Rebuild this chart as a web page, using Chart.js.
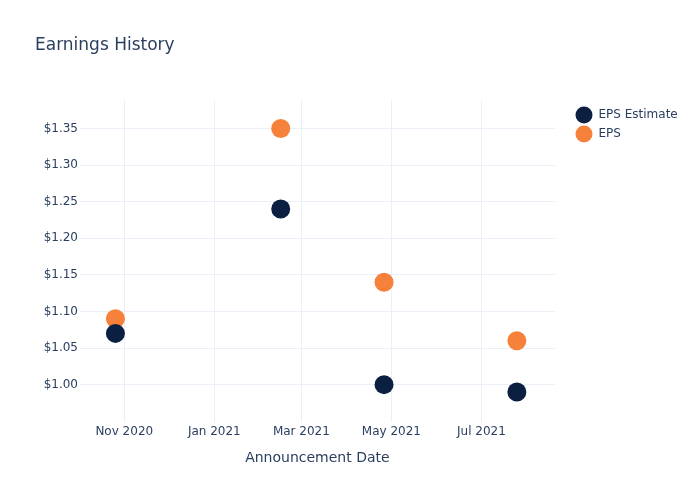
<!DOCTYPE html>
<html>
<head>
<meta charset="utf-8">
<script src="https://cdn.jsdelivr.net/npm/chart.js@4/dist/chart.umd.min.js"></script>
<style>
  html, body { margin: 0; padding: 0; background: #fff; }
  #wrap { width: 700px; height: 500px; }
</style>
</head>
<body>
<div id="wrap"><canvas id="earningsChart" width="700" height="500"></canvas></div>
<script>
// announcement dates (UTC) and values
const announceDates = ["2020-10-26", "2021-02-15", "2021-04-26", "2021-07-25"];
const epsEstimate = [1.07, 1.24, 1.00, 0.99];
const epsActual = [1.09, 1.35, 1.14, 1.06];

const xTickDates = ["2020-11-01", "2021-01-01", "2021-03-01", "2021-05-01", "2021-07-01"];
const xTickLabels = ["Nov 2020", "Jan 2021", "Mar 2021", "May 2021", "Jul 2021"];
const yTicks = [1.00, 1.05, 1.10, 1.15, 1.20, 1.25, 1.30, 1.35];

const toMs = (s) => Date.parse(s + "T00:00:00Z");
const xMin = toMs("2020-10-02");
const xMax = toMs("2021-08-19") + 16 * 3600 * 1000;

const textColor = "#2a3f5f";
const gridColor = "#ebf0f8";
const font = "'DejaVu Sans', sans-serif";

// move the legend to where plotly puts it
const legendNudge = {
  id: "legendNudge",
  afterLayout(chart) {
    const lg = chart.legend;
    const w = lg.width;
    const h = lg.height;
    lg.left = 568.5;
    lg.right = 568.5 + w;
    lg.top = 102;
    lg.bottom = 102 + h;
  },
};

new Chart(document.getElementById("earningsChart"), {
  type: "scatter",
  data: {
    datasets: [
      {
        label: "EPS Estimate",
        data: announceDates.map((d, i) => ({ x: toMs(d), y: epsEstimate[i] })),
        backgroundColor: "#0b1f41",
        borderColor: "#0b1f41",
        borderWidth: 0,
        pointRadius: 9.5,
        pointHoverRadius: 9.5,
      },
      {
        label: "EPS",
        data: announceDates.map((d, i) => ({ x: toMs(d), y: epsActual[i] })),
        backgroundColor: "#f5813a",
        borderColor: "#f5813a",
        borderWidth: 0,
        pointRadius: 9.5,
        pointHoverRadius: 9.5,
      },
    ],
  },
  options: {
    responsive: false,
    animation: false,
    layout: { padding: { left: 35, right: 26, top: 0, bottom: 33 } },
    plugins: {
      title: {
        display: true,
        text: "Earnings History",
        align: "start",
        color: textColor,
        font: { family: font, size: 17, weight: "normal" },
        padding: { top: 35, bottom: 45 },
      },
      legend: {
        position: "right",
        align: "start",
        labels: {
          usePointStyle: true,
          pointStyle: "circle",
          pointStyleWidth: 17,
          boxHeight: 12,
          padding: 7,
          color: textColor,
          font: { family: font, size: 12 },
        },
      },
      tooltip: { enabled: false },
    },
    scales: {
      x: {
        type: "linear",
        min: xMin,
        max: xMax,
        afterBuildTicks: (scale) => {
          scale.ticks = xTickDates.map((d) => ({ value: toMs(d) }));
        },
        ticks: {
          padding: 3,
          maxRotation: 0,
          color: textColor,
          font: { family: font, size: 12 },
          callback: (v, i) => xTickLabels[i],
        },
        grid: { color: gridColor, drawTicks: false },
        border: { display: false },
        title: {
          display: true,
          text: "Announcement Date",
          color: textColor,
          font: { family: font, size: 14 },
          padding: { top: 8, bottom: 0 },
        },
      },
      y: {
        min: 0.9492,
        max: 1.3884,
        afterBuildTicks: (scale) => {
          scale.ticks = yTicks.map((v) => ({ value: v }));
        },
        afterFit: (scale) => {
          scale.width = 45;
        },
        ticks: {
          padding: 2,
          color: textColor,
          font: { family: font, size: 12 },
          callback: (v) => "$" + Number(v).toFixed(2),
        },
        grid: { color: gridColor, drawTicks: false },
        border: { display: false },
      },
    },
  },
  plugins: [legendNudge],
});
</script>
</body>
</html>
